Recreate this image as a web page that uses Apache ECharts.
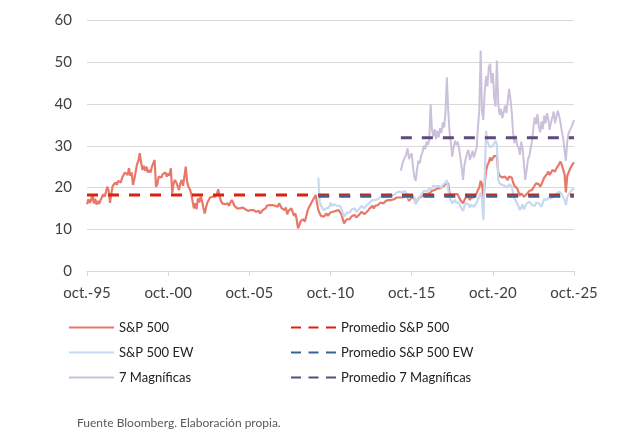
<!DOCTYPE html>
<html>
<head>
<meta charset="utf-8">
<script src="https://cdn.jsdelivr.net/npm/echarts@6/dist/echarts.min.js"></script>
<style>
html,body{margin:0;padding:0;background:#fff;}
#chart{width:635px;height:439px;}
</style>
</head>
<body>
<div id="chart"></div>
<script>
// Monthly P/E values, first value = oct-1995 (month index 0)
const spx = [
  16.0, 17.2, 16.3,
  17.0, 18.4, 16.2, 17.3, 15.9, 16.8, 16.1, 17.0, 17.6, 18.4, 17.8, 18.9,
  20.2, 19.2, 16.3, 18.6, 20.4, 20.0, 21.2, 20.6, 21.6, 22.0, 21.2, 22.4,
  22.8, 23.6, 23.9, 23.0, 24.6, 22.8, 23.6, 20.6, 22.0, 23.8, 25.6, 26.4,
  28.2, 26.0, 24.2, 25.2, 24.0, 25.0, 23.6, 24.2, 23.6, 25.0, 25.8, 26.6,
  20.2, 20.8, 22.6, 23.0, 22.4, 23.2, 22.8, 23.6, 22.6, 23.4, 22.8, 24.6,
  18.6, 21.0, 21.8, 21.2, 21.6, 19.4, 21.0, 21.8, 20.4, 22.6, 25.0, 21.4,
  20.2, 19.6, 18.6, 19.0, 15.0, 16.2, 14.8, 17.4, 16.4, 17.8, 16.8, 15.2,
  13.8, 15.2, 16.4, 17.0, 17.6, 17.2, 17.8, 17.4, 17.8, 18.4, 19.6, 17.8,
  16.8, 16.2, 16.6, 16.0, 16.4, 16.2, 15.6, 16.4, 17.0, 16.4, 15.6, 15.4,
  15.0, 15.4, 15.0, 14.6, 15.2, 15.0, 14.8, 15.2, 14.4, 14.0, 14.6, 15.0,
  14.6, 14.4, 14.2, 14.0, 14.4, 13.8, 14.2, 14.6, 14.4, 15.0, 15.6, 15.2,
  15.8, 15.4, 15.8, 16.2, 15.6, 16.0, 15.4, 16.2, 15.6, 15.0, 15.2, 14.6,
  15.2, 13.6, 14.4, 14.8, 15.0, 14.2, 13.2, 13.8, 12.4, 10.2, 11.0, 12.0,
  11.6, 12.4, 11.8, 13.0, 14.4, 15.2, 15.8, 16.4, 17.0, 17.6, 18.2, 18.0,
  14.6, 13.8, 13.2, 13.6, 13.0, 13.4, 13.8, 13.2, 13.6, 14.0, 14.4, 14.2,
  14.6, 14.4, 14.0, 14.6, 14.2, 13.6, 13.8, 11.4, 11.8, 12.4, 12.6, 12.4,
  12.8, 13.2, 13.6, 13.4, 12.8, 13.0, 13.4, 13.8, 14.2, 13.8, 13.6, 13.8,
  14.2, 14.6, 15.0, 15.2, 15.6, 15.0, 15.6, 15.4, 15.8, 16.2, 16.4, 16.6,
  16.2, 16.6, 16.8, 16.6, 17.0, 17.2, 17.0, 17.4, 17.2, 16.8, 17.6, 17.4,
  17.6, 18.0, 17.6, 17.8, 18.0, 17.6, 17.8, 16.8, 16.6, 17.6, 17.8, 17.4,
  16.2, 16.4, 17.4, 17.6, 17.8, 17.6, 18.4, 18.6, 18.4, 18.0, 18.6, 19.0,
  19.2, 19.6, 19.4, 19.6, 19.8, 19.6, 19.8, 19.6, 20.2, 20.6, 20.8, 21.2,
  21.0, 18.8, 18.4, 17.8, 18.2, 18.4, 18.0, 18.4, 18.2, 17.0, 16.8, 16.2,
  17.0, 17.6, 17.4, 17.8, 17.0, 17.6, 18.0, 17.6, 18.0, 18.6, 19.4, 20.0,
  21.6, 20.8, 17.6, 21.0, 24.0, 25.4, 26.0, 27.2, 26.4, 26.8, 27.6, 28.0,
  27.4, 23.6, 22.8, 23.2, 22.4, 22.8, 22.6, 22.2, 21.8, 22.6, 23.0, 22.4,
  21.2, 20.4, 20.8, 19.8, 19.4, 18.0, 18.6, 19.0, 17.8, 17.6, 18.4, 18.0,
  19.2, 19.6, 19.4, 20.0, 20.2, 21.0, 21.4, 20.8, 20.2, 20.8, 21.6, 22.4,
  22.6, 23.2, 23.8, 23.0, 23.6, 24.2, 24.6, 23.8, 24.6, 25.0, 25.6, 26.2,
  25.4, 25.8, 23.2, 18.8, 22.8, 23.6, 24.4, 24.8, 25.6, 26.0
];
// S&P 500 EW, first value = jan-2010 (month index 171)
const spxEWStart = 171;
const spxEW = [
  22.4, 16.6, 15.6, 15.8, 14.6, 14.2, 15.0, 14.6, 15.2, 16.4, 15.6, 15.8,
  16.0, 16.2, 15.6, 16.0, 15.6, 15.0, 15.2, 13.0, 13.4, 14.0, 14.2, 14.0,
  14.4, 14.8, 15.2, 15.0, 14.2, 14.6, 14.8, 15.2, 15.6, 15.2, 15.0, 15.4,
  15.8, 16.0, 16.4, 16.6, 17.0, 16.6, 17.0, 16.8, 17.2, 17.6, 17.8, 18.0,
  17.6, 18.0, 18.2, 18.0, 18.4, 18.6, 18.2, 18.6, 18.2, 17.8, 18.8, 18.6,
  19.0, 19.4, 18.8, 19.0, 19.2, 18.6, 18.8, 17.4, 17.0, 18.0, 18.2, 17.6,
  16.0, 16.2, 17.4, 17.8, 18.2, 18.4, 19.2, 19.4, 19.0, 18.6, 19.6, 20.0,
  19.8, 20.4, 20.0, 20.2, 20.0, 20.4, 20.2, 20.0, 20.6, 21.0, 21.2, 21.8,
  21.6, 17.6, 17.0, 16.2, 16.6, 17.0, 16.4, 16.8, 16.4, 15.4, 15.0, 14.4,
  15.6, 16.2, 15.8, 16.0, 15.2, 15.8, 16.0, 15.4, 15.8, 16.4, 17.2, 17.8,
  18.8, 17.4, 12.2, 22.4, 33.6, 31.0, 30.2, 29.6, 29.2, 30.0, 30.6, 31.2,
  30.4, 21.8, 21.0, 21.2, 20.6, 21.0, 20.4, 20.2, 20.0, 20.8, 21.0, 20.2,
  18.6, 17.4, 17.6, 16.2, 15.4, 14.6, 15.2, 16.0, 14.8, 15.0, 16.2, 16.0,
  16.6, 16.2, 15.8, 16.0, 15.6, 16.4, 16.8, 16.2, 15.8, 15.4, 16.4, 17.2,
  17.4, 17.0, 17.6, 17.2, 17.4, 17.0, 17.8, 18.0, 18.4, 18.2, 19.0, 18.6,
  18.4, 18.2, 17.0, 15.8, 17.6, 18.4, 18.8, 19.2, 19.4, 19.8
];
// 7 Magníficas, first value = feb-2015 (month index 232)
const mag7Start = 232;
const mag7 = [
  24.0, 25.4, 26.6, 27.2, 28.0, 29.4, 26.8, 27.6, 28.2, 25.0, 22.4,
  21.6, 24.4, 26.4, 25.8, 27.6, 28.4, 30.0, 29.2, 31.0, 30.2, 31.4, 40.0,
  33.8, 32.2, 34.0, 31.6, 33.6, 32.0, 34.2, 33.0, 35.6, 34.4, 38.0, 46.4,
  38.6, 33.2, 30.6, 27.4, 29.6, 31.2, 30.2, 31.0, 29.4, 27.2, 24.6, 21.8,
  25.4, 27.0, 28.4, 29.0, 26.6, 27.6, 28.8, 27.2, 28.4, 29.6, 34.4, 38.6,
  52.8, 38.0, 36.2, 43.0, 46.6, 44.2, 48.8, 49.6, 45.0, 47.4, 41.6, 39.4,
  50.4, 40.2, 37.4, 38.8, 36.6, 38.0, 39.6, 37.8, 40.6, 43.6, 41.2, 38.0,
  33.0, 30.6, 32.4, 30.2, 29.6, 27.8, 31.0, 29.4, 25.6, 21.8, 24.2, 26.8,
  27.6, 29.4, 31.2, 34.4, 36.8, 35.2, 37.6, 34.6, 33.2, 35.8, 34.0, 37.2,
  35.4, 37.8, 36.4, 33.8, 35.6, 36.8, 38.2, 35.4, 37.0, 38.4, 37.2, 35.6,
  33.4, 31.8, 29.0, 26.4, 31.0, 33.0, 32.6, 34.4, 35.2, 36.2
];
// Averages
const avgSpx = 18.2;
const avgSpxEW = 17.9;
const avgMag7 = 31.9;

const seriesNames = ['S&P 500', 'S&P 500 EW', '7 Magníficas'];
const avgNames = ['Promedio S&P 500', 'Promedio S&P 500 EW', 'Promedio 7 Magníficas'];
const xTickLabels = ['oct.-95', 'oct.-00', 'oct.-05', 'oct.-10', 'oct.-15', 'oct.-20', 'oct.-25'];
const lastIndex = 360;

function toPairs(arr, start) { return arr.map((v, i) => [start + i, v]); }

const chart = echarts.init(document.getElementById('chart'), null, {renderer: 'canvas'});
const FONT = 'Lato';
const dash = [11, 10];
const legendDash = [10, 7.5];

const option = {
  animation: false,
  backgroundColor: '#ffffff',
  grid: {left: 87, right: 61, top: 20.5, bottom: 168},
  xAxis: {
    type: 'value', min: 0, max: lastIndex, interval: 60,
    axisLine: {show: true, lineStyle: {color: '#D9D9D9', width: 1}},
    axisTick: {show: true, length: 5, lineStyle: {color: '#D9D9D9'}},
    splitLine: {show: false},
    axisLabel: {
      margin: 15, color: '#404040', fontFamily: FONT, fontSize: 15,
      formatter: v => xTickLabels[Math.round(v / 60)] || ''
    }
  },
  yAxis: {
    type: 'value', min: 0, max: 60, interval: 10,
    axisLine: {show: false}, axisTick: {show: false},
    splitLine: {lineStyle: {color: '#D9D9D9', width: 1}},
    axisLabel: {margin: 15, color: '#404040', fontFamily: FONT, fontSize: 15}
  },
  legend: [
    {
      orient: 'vertical', left: 63, top: 316, itemWidth: 45, itemHeight: 14, itemGap: 12,
      itemStyle: {opacity: 0},
      textStyle: {fontFamily: FONT, fontSize: 13, color: '#222'},
      data: seriesNames.map(n => ({name: n}))
    },
    {
      orient: 'vertical', left: 285, top: 316, itemWidth: 45, itemHeight: 14, itemGap: 12,
      itemStyle: {opacity: 0},
      textStyle: {fontFamily: FONT, fontSize: 13, color: '#222'},
      data: avgNames.map(n => ({name: n, lineStyle: {type: legendDash}}))
    }
  ],
  graphic: [{
    type: 'text', left: 77, top: 417,
    style: {text: 'Fuente Bloomberg. Elaboración propia.', fill: '#595959', font: '12px Lato'}
  }],
  series: [
    {name: seriesNames[0], type: 'line', symbol: 'none', data: toPairs(spx, 0),
     lineStyle: {color: '#E8796A', width: 2.2}, itemStyle: {color: '#E8796A'}, z: 3},
    {name: seriesNames[1], type: 'line', symbol: 'none', data: toPairs(spxEW, spxEWStart),
     lineStyle: {color: '#C6D9F1', width: 2.2}, itemStyle: {color: '#C6D9F1'}, z: 4},
    {name: seriesNames[2], type: 'line', symbol: 'none', data: toPairs(mag7, mag7Start),
     lineStyle: {color: '#CCC1DA', width: 2}, itemStyle: {color: '#CCC1DA'}, z: 2},
    {name: avgNames[0], type: 'line', symbol: 'none', data: [[0, avgSpx], [lastIndex, avgSpx]],
     lineStyle: {color: '#D9230F', width: 3, type: dash}, itemStyle: {color: '#D9230F'}, z: 5},
    {name: avgNames[1], type: 'line', symbol: 'none', data: [[spxEWStart, avgSpxEW], [lastIndex, avgSpxEW]],
     lineStyle: {color: '#3B6293', width: 3, type: dash}, itemStyle: {color: '#3B6293'}, z: 6},
    {name: avgNames[2], type: 'line', symbol: 'none', data: [[mag7Start, avgMag7], [lastIndex, avgMag7]],
     lineStyle: {color: '#5E4A7D', width: 3, type: dash}, itemStyle: {color: '#5E4A7D'}, z: 7}
  ]
};
chart.setOption(option);
</script>
</body>
</html>
